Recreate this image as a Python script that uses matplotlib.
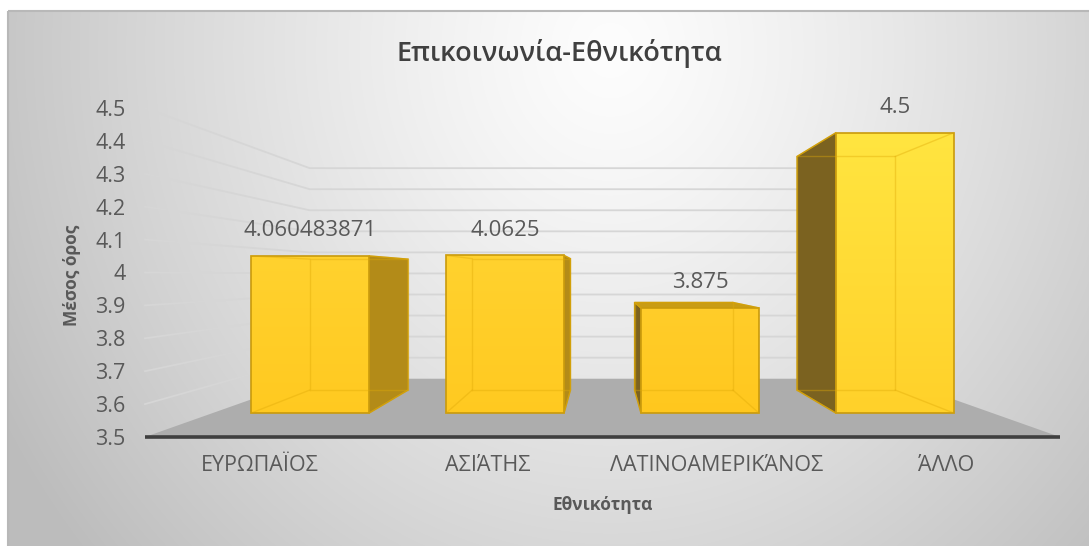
import numpy as np
import matplotlib
matplotlib.use("Agg")
import matplotlib.pyplot as plt
from matplotlib.patches import Polygon, Rectangle
from matplotlib.colors import to_rgb

# Data
categories = ["ΕΥΡΩΠΑΪΟΣ", "ΑΣΙΆΤΗΣ", "ΛΑΤΙΝΟΑΜΕΡΙΚΆΝΟΣ", "ΆΛΛΟ"]
values = [4.060483871, 4.0625, 3.875, 4.5]
value_labels = ["4.060483871", "4.0625", "3.875", "4.5"]
y_ticks = [3.5, 3.6, 3.7, 3.8, 3.9, 4.0, 4.1, 4.2, 4.3, 4.4, 4.5]

title = "Επικοινωνία-Εθνικότητα"
x_title = "Εθνικότητα"
y_title = "Μέσος όρος"

# Simple perspective: depth 0 is the front edge of the floor, 1 the back wall
VX, VY = 2.0, 3.992          # vanishing point in data units
CAM = 1.778                  # camera distance in depth units
BAR_Z0, BAR_Z1 = 0.309, 0.726
BAR_HALF = 0.3025
Y_MIN, Y_MAX = 3.5, 4.5
FONT = ["Open Sans", "DejaVu Sans"]


def proj(x, v, z):
    k = CAM / (CAM + z)
    return VX + (x - VX) * k, VY + (v - VY) * k


def blend(c1, c2, t):
    a, b = np.array(to_rgb(c1)), np.array(to_rgb(c2))
    return a + (b - a) * t


W, H = 1089, 546
fig = plt.figure(figsize=(W / 100, H / 100), dpi=100)
fig.patch.set_facecolor("white")

# Chart-area background with a soft radial gradient
bg = fig.add_axes([0, 0, 1, 1], zorder=-1)
bg.set_xlim(0, W)
bg.set_ylim(H, 0)
bg.axis("off")
gx, gy = np.meshgrid(np.arange(8, W), np.arange(11, H))
r = np.sqrt(((gx - 610) / 560.0) ** 2 + ((gy - 50) / 620.0) ** 2)
t = np.clip(r, 0, 1.25) / 1.25
t = t ** 1.25
inner, outer = np.array(to_rgb("#fdfdfd")), np.array(to_rgb("#bcbcbc"))
img = inner[None, None, :] + (outer - inner)[None, None, :] * t[..., None]
bg.imshow(img, extent=[8, W, H, 11], interpolation="bilinear", aspect="auto")
bg.add_patch(Rectangle((8, 11), W, H, fill=False, edgecolor="#b8b8b8", lw=1.5))

# Plot axes: x in category units, y in value units at the front plane
ax = fig.add_axes([145 / W, 109 / H, 915 / W, 329 / H])
ax.set_facecolor("none")
n = len(categories)

# Side-wall and back-wall gridlines
for v in y_ticks[1:]:
    p0 = proj(0, v, 0)
    p1 = proj(0, v, 1)
    p2 = proj(n, v, 1)
    ax.plot([p0[0], p1[0], p2[0]], [p0[1], p1[1], p2[1]], color="#d6d6d6",
            lw=1.3, clip_on=False, zorder=1, solid_joinstyle="miter")

# Floor
floor = [proj(0, Y_MIN, 0), proj(n, Y_MIN, 0), proj(n, Y_MIN, 1), proj(0, Y_MIN, 1)]
ax.add_patch(Polygon(floor, closed=True, facecolor="#adadad", edgecolor="none",
                     zorder=2, clip_on=False))
ax.plot([0, n], [Y_MIN, Y_MIN], color="#3f3f3f", lw=2.6, clip_on=False,
        zorder=3, solid_capstyle="butt")

# 3D bars
edge_col = "#c99a0c"
for i, val in enumerate(values):
    cx = i + 0.5
    x0, x1 = cx - BAR_HALF, cx + BAR_HALF
    v0, v1 = Y_MIN, val

    # visible side face
    if x0 > VX:
        side = [proj(x0, v0, BAR_Z0), proj(x0, v1, BAR_Z0),
                proj(x0, v1, BAR_Z1), proj(x0, v0, BAR_Z1)]
        ax.add_patch(Polygon(side, closed=True, facecolor="#7b6220",
                             edgecolor=edge_col, lw=1, zorder=4, clip_on=False))
    if x1 < VX:
        side = [proj(x1, v0, BAR_Z0), proj(x1, v1, BAR_Z0),
                proj(x1, v1, BAR_Z1), proj(x1, v0, BAR_Z1)]
        ax.add_patch(Polygon(side, closed=True, facecolor="#b38b18",
                             edgecolor=edge_col, lw=1, zorder=4, clip_on=False))
    # top face when it sits below eye level
    if v1 < VY:
        top = [proj(x0, v1, BAR_Z0), proj(x1, v1, BAR_Z0),
               proj(x1, v1, BAR_Z1), proj(x0, v1, BAR_Z1)]
        ax.add_patch(Polygon(top, closed=True, facecolor="#c99c14",
                             edgecolor=edge_col, lw=1, zorder=4, clip_on=False))

    # front face with a vertical gradient
    fx0, fv0 = proj(x0, v0, BAR_Z0)
    fx1, fv1 = proj(x1, v1, BAR_Z0)
    tt = ((v1 - Y_MIN) / (Y_MAX - Y_MIN)) ** 2
    c_bot = blend("#ffc61c", "#ffd12a", tt)
    c_top = blend("#ffc926", "#ffe540", tt)
    grad = np.linspace(0, 1, 64)[:, None]
    face = c_bot[None, :] + (c_top - c_bot)[None, :] * grad
    face = np.repeat(face[:, None, :], 2, axis=1)
    im = ax.imshow(face, extent=[fx0, fx1, fv0, fv1], origin="lower",
                   aspect="auto", interpolation="bilinear", zorder=5)
    front = Polygon([(fx0, fv0), (fx1, fv0), (fx1, fv1), (fx0, fv1)], closed=True,
                    facecolor="none", edgecolor=edge_col, lw=1.2, zorder=6,
                    clip_on=False)
    ax.add_patch(front)
    im.set_clip_path(front)

    # hidden back edges seen through the translucent box
    back = [proj(x0, v0, BAR_Z1), proj(x1, v0, BAR_Z1),
            proj(x1, v1, BAR_Z1), proj(x0, v1, BAR_Z1)]
    bx = [p[0] for p in back] + [back[0][0]]
    by = [p[1] for p in back] + [back[0][1]]
    ax.plot(bx, by, color="#e0aa08", lw=1, alpha=0.4, zorder=7, clip_on=False)
    for xc, vc in [(x0, v0), (x1, v0), (x1, v1), (x0, v1)]:
        a = proj(xc, vc, BAR_Z0)
        b = proj(xc, vc, BAR_Z1)
        ax.plot([a[0], b[0]], [a[1], b[1]], color="#e0aa08", lw=1, alpha=0.4,
                zorder=7, clip_on=False)

    # value label above the front face
    lx, ly = proj(cx, v1, BAR_Z0)
    ax.annotate(value_labels[i], xy=(lx, ly), xytext=(0, 18),
                textcoords="offset points", ha="center", va="center",
                fontsize=16, color="#595959", family=FONT, zorder=8)

ax.set_xlim(0, n)
ax.set_ylim(Y_MIN, Y_MAX)
for s in ax.spines.values():
    s.set_visible(False)

ax.set_yticks(y_ticks)
ax.set_yticklabels([f"{v:g}" for v in y_ticks], family=FONT,
                   fontsize=15.5, color="#595959")
ax.set_xticks([i + 0.5 for i in range(n)])
ax.set_xticklabels(categories, family=FONT, fontsize=15.5, color="#595959")
ax.tick_params(axis="y", length=0, pad=14)
ax.tick_params(axis="x", length=0, pad=13)

fig.text(72 / W, 1 - 275 / H, y_title, rotation=90, ha="center", va="center",
         fontsize=12.5, fontweight="bold", color="#595959", family=FONT)
fig.text(603 / W, 1 - 505 / H, x_title, ha="center", va="center",
         fontsize=12.5, fontweight="bold", color="#595959", family=FONT)
fig.text(559 / W, 1 - 53 / H, title, ha="center", va="center",
         fontsize=19.5, fontweight="semibold", color="#404040", family=FONT)

fig.savefig("out.png", dpi=100)
